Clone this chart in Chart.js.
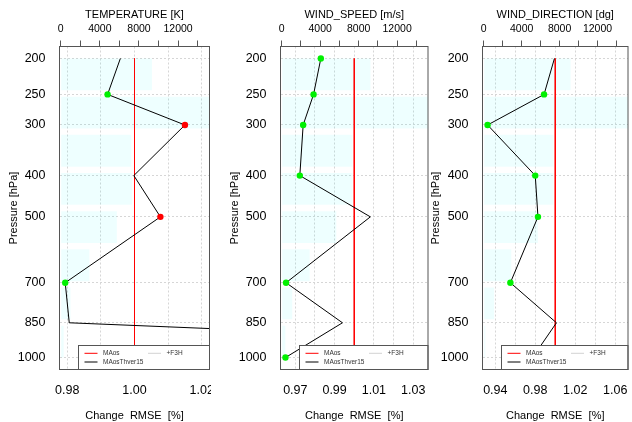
<!DOCTYPE html>
<html>
<head>
<meta charset="utf-8">
<script src="https://cdn.jsdelivr.net/npm/chart.js@4.4.0/dist/chart.umd.min.js"></script>
<style>
html, body { margin: 0; padding: 0; background: #fff; }
#wrap { position: relative; width: 632px; height: 422px; overflow: hidden; }
canvas { position: absolute; top: 0; }
</style>
</head>
<body>
<div id="wrap">
  <canvas id="c1" width="211" height="422" style="left:0px"></canvas>
  <canvas id="c2" width="211" height="422" style="left:221px"></canvas>
  <canvas id="c3" width="210" height="422" style="left:422px"></canvas>
</div>
<script>
// pressure levels (hPa)
var levels = [200, 250, 300, 400, 500, 700, 850, 1000];

// number of observations per level (top axis)
var countsT  = [9330, 17500, 7210, 7280, 5740, 2930, 1000, 300];
var countsWS = [9230, 17500, 7350, 7350, 5680, 2910, 1100, 380];
var countsWD = [9160, 17500, 7350, 7350, 5710, 2910, 1100, 170];

// change of RMSE, MAosThver15 relative to MAos
var rmseT  = [0.9958, 0.9920, 1.0150, 0.9998, 1.0077, 0.9794, 0.9806, 1.232];
var rmseWS = [0.9830, 0.9793, 0.9740, 0.9723, 1.0082, 0.9653, 0.9940, 0.9650];
var rmseWD = [0.9992, 0.9888, 0.9323, 0.9800, 0.9827, 0.9551, 1.0012, 0.9773];

// significance: g = better, r = worse, '' = not significant
var sigT  = ['', 'g', 'r', '', 'r', 'g', '', ''];
var sigWS = ['g', 'g', 'g', 'g', '', 'g', '', 'g'];
var sigWD = ['', 'g', 'g', 'g', 'g', 'g', '', 'g'];

// tick values / labels
var topTicks  = [0, 2000, 4000, 6000, 8000, 10000, 12000, 14000];
var topLabels = ['0', '4000', '8000', '12000'];
var xTicksT   = [0.98, 0.99, 1.00, 1.01, 1.02];
var xLabelsT  = ['0.98', '1.00', '1.02'];
var xTicksWS  = [0.97, 0.98, 0.99, 1.00, 1.01, 1.02, 1.03];
var xLabelsWS = ['0.97', '0.99', '1.01', '1.03'];
var xTicksWD  = [0.94, 0.96, 0.98, 1.00, 1.02, 1.04, 1.06];
var xLabelsWD = ['0.94', '0.98', '1.02', '1.06'];

var FONT = "'Liberation Sans', Arial, Helvetica, sans-serif";
Chart.defaults.font.family = FONT;
Chart.defaults.color = '#000';

function pt(p) { return Math.pow(p, 0.2); }
var t0 = pt(levels[0]), t1 = pt(levels[levels.length - 1]);
var yMin = t0 - 0.04 * (t1 - t0), yMax = t1 + 0.04 * (t1 - t0);

function noPad(s) { s.paddingLeft = 0; s.paddingRight = 0; s.paddingTop = 0; s.paddingBottom = 0; }

var boxAndKey = {
  id: 'boxAndKey',
  afterDatasetsDraw: function(chart) {
    var a = chart.chartArea, ctx = chart.ctx;
    ctx.save();
    var lx = a.left + 19, ly = a.bottom - 24;
    ctx.fillStyle = '#fff';
    ctx.fillRect(lx, ly, a.right - lx, a.bottom - ly);
    ctx.strokeStyle = '#555';
    ctx.lineWidth = 1;
    ctx.strokeRect(lx, ly, a.right - lx, a.bottom - ly);
    var items = chart.data.datasets.filter(function(d) { return d.label; });
    var spots = [[6, 7.8], [6, 16.5], [69.5, 7.8]];
    ctx.font = '6.5px ' + FONT;
    ctx.textBaseline = 'middle';
    items.forEach(function(d, i) {
      var s = spots[i];
      ctx.strokeStyle = d.borderColor;
      ctx.beginPath();
      ctx.moveTo(lx + s[0], ly + s[1]);
      ctx.lineTo(lx + s[0] + 13, ly + s[1]);
      ctx.stroke();
      ctx.fillStyle = '#333';
      ctx.fillText(d.label, lx + s[0] + 18.5, ly + s[1]);
    });
    ctx.strokeStyle = '#555';
    ctx.strokeRect(a.left, a.top, a.right - a.left, a.bottom - a.top);
    ctx.restore();
  }
};

function makePanel(id, title, counts, vals, sig, half, xTicks, xLabels, yWidth, padRight) {
  var barData = counts.map(function(c, i) { return { x: c, y: 0.7 + 1.2 * i }; });
  var lineData = vals.map(function(v, i) { return { x: v, y: pt(levels[i]) }; });
  var ptColors = sig.map(function(s) { return s === 'g' ? '#00f000' : (s === 'r' ? '#ff0000' : 'rgba(0,0,0,0)'); });
  var ptRadius = sig.map(function(s) { return s ? 3.2 : 0; });

  new Chart(document.getElementById(id), {
    type: 'line',
    data: {
      datasets: [
        {
          label: 'MAos',
          data: [{ x: 1, y: t0 }, { x: 1, y: t1 }],
          borderColor: '#ff0000', borderWidth: 1, pointRadius: 0,
          xAxisID: 'x', yAxisID: 'y', order: 2
        },
        {
          label: 'MAosThver15',
          data: lineData,
          borderColor: '#000', borderWidth: 1, tension: 0,
          pointRadius: ptRadius, pointBackgroundColor: ptColors, pointBorderWidth: 0,
          xAxisID: 'x', yAxisID: 'y', order: 1
        },
        {
          label: '+F3H',
          data: [],
          borderColor: '#d3d3d3', borderWidth: 1, pointRadius: 0,
          xAxisID: 'x', yAxisID: 'y', order: 4
        },
        {
          type: 'bar',
          data: barData,
          indexAxis: 'y',
          grouped: false,
          backgroundColor: 'rgba(0,255,255,0.065)',
          borderWidth: 0,
          categoryPercentage: 1, barPercentage: 1 / 1.2,
          xAxisID: 'xt', yAxisID: 'yb', order: 5
        }
      ]
    },
    options: {
      responsive: false,
      animation: false,
      events: [],
      layout: { padding: { left: 0, top: 0, bottom: 0, right: padRight } },
      plugins: { legend: { display: false }, tooltip: { enabled: false } },
      scales: {
        x: {
          type: 'linear', position: 'bottom',
          min: 1 - half, max: 1 + half,
          afterBuildTicks: function(s) { s.ticks = xTicks.map(function(v) { return { value: v }; }); },
          afterFit: function(s) { s.height = 52.5; noPad(s); },
          ticks: {
            autoSkip: false, maxRotation: 0, padding: 13.5,
            font: { size: 12.5 },
            callback: function(v) { var l = v.toFixed(2); return xLabels.indexOf(l) >= 0 ? l : ''; }
          },
          grid: { color: '#d6d6d6', drawTicks: false, borderDash: [2, 2] },
          border: { display: false, dash: [2, 2] },
          title: { display: true, text: 'Change  RMSE  [%]', font: { size: 11 }, padding: { top: 0, bottom: -1 } }
        },
        xt: {
          type: 'linear', position: 'top',
          min: -125, max: 15210,
          afterBuildTicks: function(s) { s.ticks = topTicks.map(function(v) { return { value: v }; }); },
          afterFit: function(s) { s.height = 46.5; noPad(s); },
          ticks: {
            autoSkip: false, maxRotation: 0, padding: 5.5,
            font: { size: 10.5 },
            callback: function(v) { return topLabels.indexOf(String(v)) >= 0 ? String(v) : ''; }
          },
          grid: { drawOnChartArea: false, drawTicks: true, tickLength: 6, color: '#555', tickColor: '#555' },
          border: { display: false },
          title: { display: true, text: title, font: { size: 11 }, padding: { top: 8.2, bottom: 0 } }
        },
        y: {
          type: 'linear', position: 'left', reverse: true,
          min: yMin, max: yMax,
          afterBuildTicks: function(s) { s.ticks = levels.map(function(p) { return { value: pt(p) }; }); },
          afterFit: function(s) { s.width = yWidth; noPad(s); },
          ticks: {
            autoSkip: false, padding: 14,
            font: { size: 12.5 },
            callback: function(v) { return String(Math.round(Math.pow(v, 5))); }
          },
          grid: { color: '#d6d6d6', drawTicks: false, borderDash: [2, 2] },
          border: { display: false, dash: [2, 2] },
          title: { display: true, text: 'Pressure [hPa]', font: { size: 11 }, padding: { top: 7.7, bottom: 0 } }
        },
        yb: {
          type: 'linear', display: false, reverse: true, offset: false,
          min: -0.176, max: 9.976,
          afterBuildTicks: function(s) { s.ticks = barData.map(function(b) { return { value: b.y }; }); }
        }
      }
    },
    plugins: [boxAndKey]
  });
}

makePanel('c1', 'TEMPERATURE [K]', countsT, rmseT, sigT, 0.0223, xTicksT, xLabelsT, 59.5, 1.5);
makePanel('c2', 'WIND_SPEED [m/s]', countsWS, rmseWS, sigWS, 0.03753, xTicksWS, xLabelsWS, 59.5, 0.5);
makePanel('c3', 'WIND_DIRECTION [dg]', countsWD, rmseWD, sigWD, 0.0728, xTicksWD, xLabelsWD, 60.5, 0.5);
</script>
</body>
</html>
